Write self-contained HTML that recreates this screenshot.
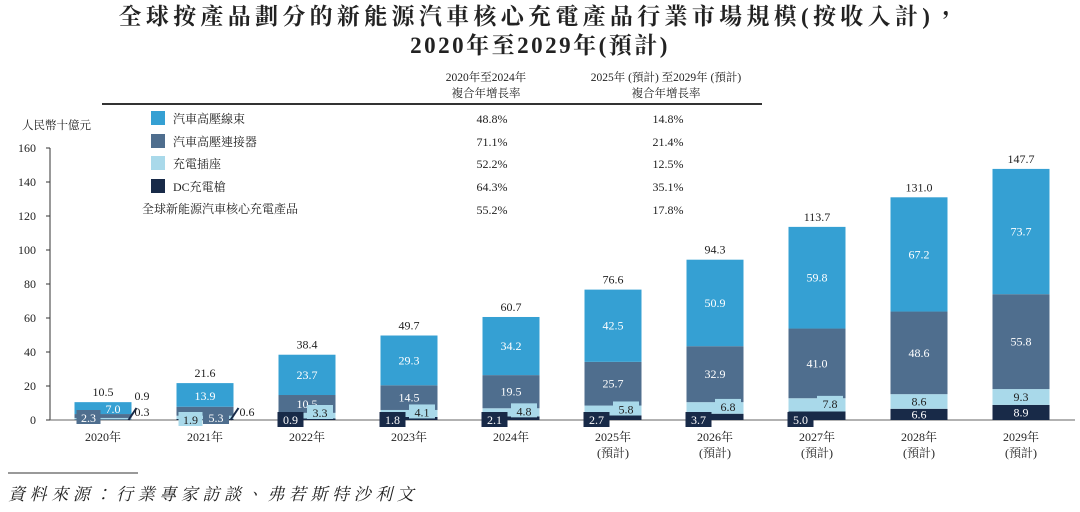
<!DOCTYPE html>
<html><head><meta charset="utf-8">
<style>
html,body{margin:0;padding:0;background:#fff;}
body{width:1080px;height:512px;position:relative;overflow:hidden;font-family:"Liberation Serif","Noto Serif CJK SC",serif;color:#222;}
.t{position:absolute;white-space:nowrap;}
</style></head>
<body>
<div class="t" style="left:0;width:1080px;top:2px;text-align:center;font-family:'Liberation Serif','Noto Serif CJK TC',serif;font-weight:bold;font-size:23px;line-height:29px;letter-spacing:4.3px;">全球按產品劃分的新能源汽車核心充電產品行業市場規模(按收入計)，<br><span style="letter-spacing:2.5px">2020年至2029年(預計)</span></div>
<svg id="chart" width="1080" height="512" style="position:absolute;left:0;top:0;font-family:'Liberation Serif','Noto Serif CJK TC',serif;"></svg>
<script>
const years=["2020年","2021年","2022年","2023年","2024年","2025年","2026年","2027年","2028年","2029年"];
const forecast=[false,false,false,false,false,true,true,true,true,true];
const dcGun=[0.3,0.6,0.9,1.8,2.1,2.7,3.7,5.0,6.6,8.9];
const socket=[0.9,1.9,3.3,4.1,4.8,5.8,6.8,7.8,8.6,9.3];
const connector=[2.3,5.3,10.5,14.5,19.5,25.7,32.9,41.0,48.6,55.8];
const harness=[7.0,13.9,23.7,29.3,34.2,42.5,50.9,59.8,67.2,73.7];
const totals=["10.5","21.6","38.4","49.7","60.7","76.6","94.3","113.7","131.0","147.7"];
const yTicks=[0,20,40,60,80,100,120,140,160];
const seriesNames=["汽車高壓線束","汽車高壓連接器","充電插座","DC充電槍"];
const cagr1=["48.8%","71.1%","52.2%","64.3%","55.2%"];
const cagr2=["14.8%","21.4%","12.5%","35.1%","17.8%"];
const colors=["#35a0d3","#4f6e8e","#a9d9ea","#182a48"];

const svg=document.getElementById('chart');
const NS="http://www.w3.org/2000/svg";
const y0=420,pxPer=1.7,x0=103,step=102,bw=57;
const Y=v=>y0-v*pxPer;
const X=i=>x0+i*step;
function mk(tag,attrs,parent){const e=document.createElementNS(NS,tag);for(const k in attrs)e.setAttribute(k,attrs[k]);(parent||svg).appendChild(e);return e;}
function txt(x,y,s,size,fill,anchor){const e=mk('text',{x:x,y:y,'font-size':size,fill:fill||'#222','text-anchor':anchor||'middle'});e.textContent=s;return e;}

let ax=mk('line',{x1:50,y1:Y(0),x2:50,y2:Y(160),stroke:'#333','stroke-width':1});


let bl=mk('line',{x1:46,y1:Y(0),x2:1075,y2:Y(0),stroke:'#666','stroke-width':1});


yTicks.forEach(v=>{
  mk('line',{x1:46,y1:Y(v),x2:50,y2:Y(v),stroke:'#333'});
  const t=txt(36,Y(v)+4,String(v),12,'#222','end');
  
  
});
const ut=txt(22,129,"人民幣十億元",11.5,'#222','start');



years.forEach((yr,i)=>{
  const cx=X(i),l=cx-bw/2;
  const vals=[dcGun[i],socket[i],connector[i],harness[i]];
  const cols=[colors[3],colors[2],colors[1],colors[0]];
  const names=['bar-dc-gun','bar-socket','bar-connector','bar-harness'];
  let acc=0;
  const tops=[];
  vals.forEach((v,k)=>{
    const r=mk('rect',{x:l,y:Y(acc+v),width:bw,height:v*pxPer,fill:cols[k]});
    
    
    tops.push([acc,acc+v]);acc+=v;
  });
  const hm=(tops[3][0]+tops[3][1])/2, cm=(tops[2][0]+tops[2][1])/2;
  if(i>=2){
    txt(cx,Y(hm)+4,harness[i].toFixed(1),12,'#fff');
    txt(cx,Y(cm)+4,connector[i].toFixed(1),12,'#fff');
  } else if(i===0){
    txt(cx+10,Y(hm)+5,harness[i].toFixed(1),12,'#fff');
    mk('rect',{x:l+2,y:Y(0)-10,width:24,height:14,fill:colors[1]});
    txt(l+14,Y(0)+2,connector[i].toFixed(1),12,'#fff');
  } else {
    txt(cx,Y(hm)+5,harness[i].toFixed(1),12,'#fff');
    mk('rect',{x:cx-2,y:Y(0)-10,width:26,height:14,fill:colors[1]});
    txt(cx+11,Y(0)+2,connector[i].toFixed(1),12,'#fff');
  }
  if(i<2){
    if(i===1){mk('rect',{x:l+2,y:Y(0)-8,width:24,height:14,fill:colors[2]});txt(l+14,Y(0)+4,socket[i].toFixed(1),12,'#222');}
    mk('line',{x1:l+bw-3,y1:Y(0),x2:l+bw+5,y2:Y(0)-12,stroke:'#182a48','stroke-width':2});
    if(i===0){txt(l+bw+3,Y(0)-20,socket[i].toFixed(1),12,'#222','start');txt(l+bw+3,Y(0)-4,dcGun[i].toFixed(1),12,'#222','start');}
    else txt(l+bw+6,Y(0)-4,dcGun[i].toFixed(1),12,'#222','start');
  } else if(i<8){
    const sy=Math.min(Y(tops[1][1]/2+tops[1][0]/2), Y(0)-6);
    mk('rect',{x:cx,y:sy-9,width:26,height:14,fill:colors[2]});
    txt(cx+13,sy+3,socket[i].toFixed(1),12,'#222');
    mk('rect',{x:l-1,y:Y(0)-8,width:26,height:15,fill:colors[3]});
    txt(l+12,Y(0)+4,dcGun[i].toFixed(1),12,'#fff');
  } else {
    txt(cx,Y((tops[1][0]+tops[1][1])/2)+4,socket[i].toFixed(1),12,'#222');
    txt(cx,Y(dcGun[i]/2)+4,dcGun[i].toFixed(1),12,'#fff');
  }
  const tl=txt(cx,Y(acc)-6,totals[i],12,'#222');
  
  
  const xl=txt(cx,441,yr,12,'#222');
  
  
  if(forecast[i]) txt(cx,457,"(預計)",12,'#222');
});

txt(486,81,"2020年至2024年",11.5);txt(486,97,"複合年增長率",11.5);
txt(666,81,"2025年 (預計) 至2029年 (預計)",11.5);txt(666,97,"複合年增長率",11.5);
mk('line',{x1:102,y1:104,x2:762,y2:104,stroke:'#333','stroke-width':2});
const rowsY=[119,142,164,187,212];
seriesNames.forEach((n,k)=>{
  const sw=mk('rect',{x:151,y:rowsY[k]-8,width:14,height:14,fill:colors[k]});
  
  
  const lt=txt(173,rowsY[k]+4,n,12,'#222','start');
  
  
});
txt(142,213,"全球新能源汽車核心充電產品",12,'#222','start');
const cy=[123,146,168,191,214];
cagr1.forEach((c,k)=>txt(492,cy[k],c,12));
cagr2.forEach((c,k)=>txt(668,cy[k],c,12));

mk('line',{x1:8,y1:473,x2:138,y2:473,stroke:'#333','stroke-width':1});
const src=txt(8,500,"資料來源：行業專家訪談、弗若斯特沙利文",17,'#222','start');
src.setAttribute('font-style','italic');
src.setAttribute('letter-spacing','4.6');


</script>
</body></html>
